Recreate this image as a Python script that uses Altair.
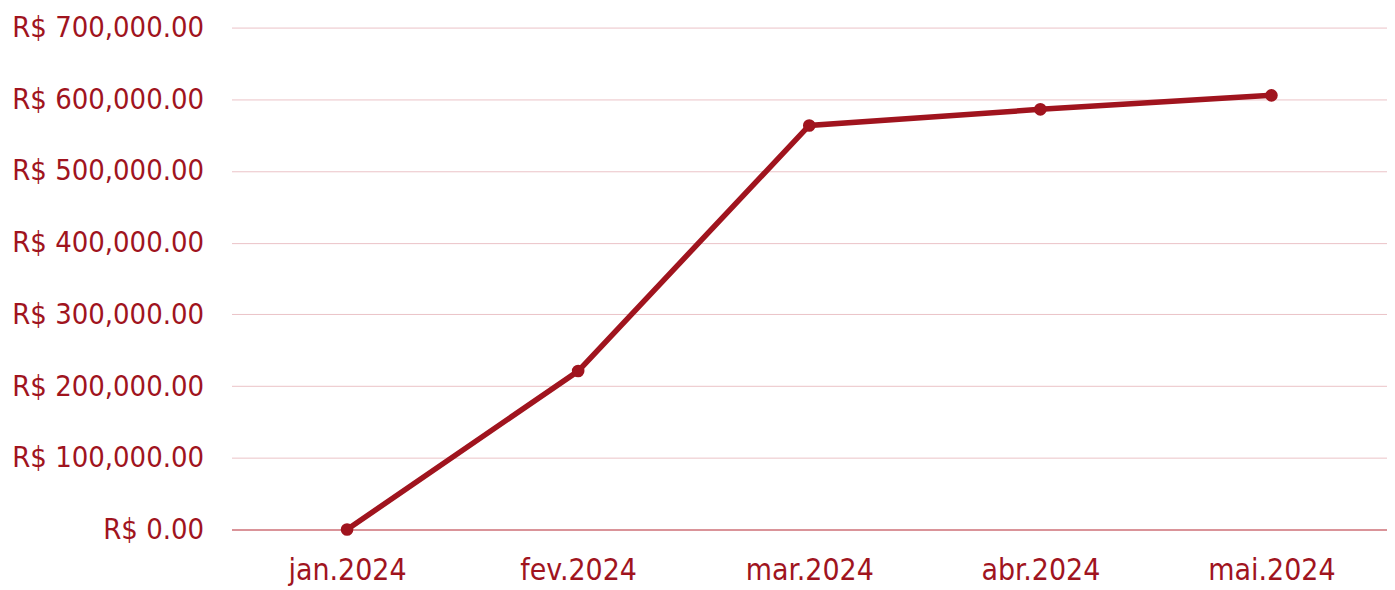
import altair as alt
import pandas as pd

months = ["jan.2024", "fev.2024", "mar.2024", "abr.2024", "mai.2024"]
values = [0, 221000, 563500, 586000, 605500]

df = pd.DataFrame({"mes": months, "valor": values})

RED = "#a0141e"
FONT = "DejaVu Sans Condensed"

base = alt.Chart(df).encode(
    x=alt.X("mes:N", sort=months, title=None,
            scale=alt.Scale(type="point", padding=0.5),
            axis=alt.Axis(labelAngle=0, ticks=False, domain=True, domainColor="#d07a80",
                          domainWidth=1.5, labelPadding=26, grid=False, labelLimit=0,
                          labelFontSize=30)),
    y=alt.Y("valor:Q", title=None,
            scale=alt.Scale(domain=[0, 700000], nice=False),
            axis=alt.Axis(values=[0, 100000, 200000, 300000, 400000, 500000, 600000, 700000],
                          labelExpr="'R$ ' + format(datum.value, ',.2f')",
                          ticks=False, domain=False, labelPadding=28, labelLimit=0,
                          labelFontSize=29,
                          gridColor="#ebc3c7", gridWidth=1)),
)

line = base.mark_line(color=RED, strokeWidth=5.5)
pts = base.mark_circle(color=RED, size=160, opacity=1)

chart = (line + pts).properties(
    width=1158, height=503,
    autosize=alt.AutoSizeParams(type="none"),
    padding={"left": 224, "top": 19, "right": 0, "bottom": 60},
).configure_axis(
    labelFont=FONT, labelColor=RED,
).configure_view(stroke=None)

chart.save("out.html", embed_options={"renderer": "svg", "actions": False})
